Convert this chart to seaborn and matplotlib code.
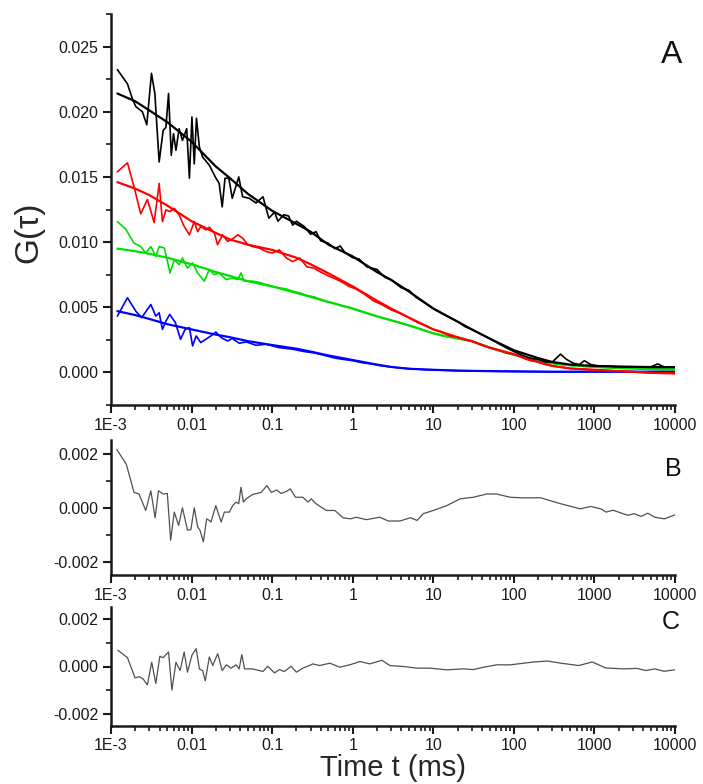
import numpy as np
import matplotlib
matplotlib.use("Agg")
import matplotlib.pyplot as plt
import seaborn as sns
from matplotlib.ticker import (FixedLocator, FixedFormatter, LogLocator,
                               NullFormatter, MultipleLocator, FuncFormatter)

# ---------------------------------------------------------------- data
# lag time (ms) and correlation amplitude of the measured curves
BLACK_T = [0.0012, 0.0016, 0.00184, 0.00203, 0.00245, 0.00278, 0.00318, 0.0035,
           0.00396, 0.00444, 0.0048, 0.00518, 0.0056, 0.00597, 0.0064, 0.007,
           0.0077, 0.0087, 0.0094, 0.0101, 0.0108, 0.0115, 0.0125, 0.0137,
           0.0166, 0.0197, 0.022, 0.024, 0.026, 0.029, 0.032, 0.0385, 0.043,
           0.052, 0.063, 0.077, 0.091, 0.107, 0.118, 0.14, 0.16, 0.18, 0.2,
           0.25, 0.3, 0.35, 0.4, 0.5, 0.6, 0.7, 0.8, 1.0, 1.2, 1.5, 2.0, 2.5,
           3.0, 4.0, 5.0, 6.0, 8.0, 10, 13, 16, 20, 25, 30, 40, 50, 65, 80, 100,
           130, 160, 200, 250, 300, 380, 450, 550, 650, 750, 900, 1100, 1400,
           1800, 2300, 3000, 4000, 5000, 6100, 7500, 10000]
BLACK_G = [0.02323, 0.02214, 0.0210, 0.0204, 0.0200, 0.0190, 0.02295, 0.0214,
           0.01615, 0.01857, 0.0188, 0.0214, 0.01666, 0.01832, 0.01705, 0.0187,
           0.0178, 0.0187, 0.0149, 0.0196, 0.0160, 0.0195, 0.0173, 0.01653,
           0.0159, 0.0150, 0.0145, 0.0127, 0.0149, 0.0149, 0.01336, 0.0150,
           0.01348, 0.01336, 0.0130, 0.01348, 0.01183, 0.0123, 0.0116, 0.0121,
           0.0120, 0.0113, 0.0116, 0.0112, 0.0106, 0.0108, 0.0101, 0.0099,
           0.0095, 0.0097, 0.0092, 0.0088, 0.0087, 0.0081, 0.0079, 0.0073,
           0.0071, 0.0065, 0.0063, 0.0058, 0.0053, 0.0049, 0.0045, 0.0042,
           0.0039, 0.0035, 0.0033, 0.0029, 0.0026, 0.0022, 0.0019, 0.0016,
           0.0013, 0.0011, 0.0010, 0.0008, 0.0008, 0.0014, 0.0010, 0.0007,
           0.0006, 0.0009, 0.0006, 0.0005, 0.0005, 0.00045, 0.0004, 0.00042,
           0.0004, 0.00042, 0.00065, 0.0004, 0.0004]

RED_T = [0.0012, 0.0016, 0.00193, 0.00234, 0.00283, 0.00343, 0.00396, 0.00435,
         0.0048, 0.0054, 0.0061, 0.007, 0.0081, 0.0094, 0.0108, 0.0119, 0.013,
         0.015, 0.0166, 0.0192, 0.021, 0.0243, 0.028, 0.032, 0.0375, 0.043,
         0.05, 0.057, 0.069, 0.084, 0.1, 0.123, 0.15, 0.18, 0.22, 0.27, 0.33,
         0.4, 0.5, 0.6, 0.75, 0.9, 1.1, 1.4, 1.8, 2.3, 3, 4, 5, 6.5, 8, 10, 13,
         16, 20, 25, 30, 40, 50, 65, 80, 100, 130, 160, 200, 250, 300, 400,
         500, 700, 1000, 1400, 2000, 3000, 4000, 5500, 7500, 10000]
RED_G = [0.01539, 0.01608, 0.01425, 0.01216, 0.01328, 0.0115, 0.0145, 0.01157,
         0.01247, 0.01234, 0.0126, 0.01208, 0.0112, 0.01056, 0.01157, 0.0108,
         0.0112, 0.01094, 0.01114, 0.01069, 0.0098, 0.01056, 0.01005, 0.01023,
         0.01056, 0.0103, 0.0098, 0.00966, 0.00954, 0.00928, 0.00916, 0.0094,
         0.00878, 0.0085, 0.00878, 0.0081, 0.0080, 0.0077, 0.0074, 0.0072,
         0.0069, 0.0066, 0.0064, 0.0060, 0.0055, 0.0052, 0.0048, 0.0045,
         0.0042, 0.0038, 0.0036, 0.0033, 0.0031, 0.0028, 0.0027, 0.0025,
         0.0024, 0.0021, 0.0019, 0.0017, 0.0015, 0.0014, 0.0011, 0.0009,
         0.0008, 0.0006, 0.0005, 0.0004, 0.0003, 0.00025, 0.0002, 0.00015,
         0.0001, 0.00005, 0.0, -0.00005, -0.00003, -0.00008]

GREEN_T = [0.0012, 0.00152, 0.00193, 0.00234, 0.0027, 0.00312, 0.0036, 0.00396,
           0.0046, 0.0054, 0.0061, 0.007, 0.0077, 0.0089, 0.0103, 0.0119,
           0.0144, 0.0166, 0.0192, 0.022, 0.027, 0.032, 0.0375, 0.041, 0.045,
           0.057, 0.07, 0.084, 0.1, 0.123, 0.15, 0.18, 0.22, 0.27, 0.33, 0.4,
           0.5, 0.6, 0.75, 0.9, 1.1, 1.4, 1.8, 2.3, 3, 4, 5, 6.5, 8, 10, 13, 16,
           20, 25, 30, 40, 50, 65, 80, 100, 130, 160, 200, 250, 300, 400, 500,
           700, 1000, 1400, 2000, 3000, 4000, 5500, 7500, 10000]
GREEN_G = [0.01157, 0.0110, 0.00992, 0.00966, 0.00916, 0.00966, 0.0089,
           0.00966, 0.00954, 0.00763, 0.00865, 0.00827, 0.00878, 0.0080,
           0.0084, 0.00763, 0.0070, 0.00789, 0.0075, 0.00763, 0.00712, 0.00725,
           0.00712, 0.00763, 0.0070, 0.0070, 0.0069, 0.00674, 0.0066, 0.00649,
           0.0064, 0.00623, 0.0061, 0.0059, 0.0058, 0.0056, 0.0054, 0.0053,
           0.0051, 0.0050, 0.0048, 0.0046, 0.0044, 0.0042, 0.0040, 0.0038,
           0.0036, 0.0034, 0.0032, 0.0030, 0.0028, 0.0027, 0.0026, 0.0025,
           0.0024, 0.0021, 0.0019, 0.0017, 0.0015, 0.00135, 0.0012, 0.0010,
           0.0009, 0.0008, 0.0007, 0.0006, 0.00055, 0.00048, 0.00042, 0.00038,
           0.00033, 0.0003, 0.00027, 0.00025, 0.00024, 0.00023]

BLUE_T = [0.0012, 0.0016, 0.00203, 0.0024, 0.00312, 0.0036, 0.00396, 0.00435,
          0.0048, 0.00536, 0.0063, 0.0073, 0.0083, 0.0094, 0.0103, 0.0114,
          0.013, 0.015, 0.0174, 0.02, 0.0233, 0.028, 0.032, 0.039, 0.048, 0.063,
          0.084, 0.123, 0.18, 0.25, 0.33, 0.45, 0.6, 0.8, 1.0, 1.3, 1.7, 2.2, 3,
          4, 5.5, 7.5, 10, 14, 20, 30, 45, 70, 100, 200, 400, 700, 1000, 2000,
          4000, 7000, 10000]
BLUE_G = [0.00432, 0.00573, 0.0047, 0.0042, 0.00521, 0.00432, 0.00458, 0.0033,
          0.00394, 0.00445, 0.00382, 0.00254, 0.0033, 0.00344, 0.00203, 0.0028,
          0.00229, 0.00254, 0.0028, 0.0031, 0.00267, 0.00241, 0.0026, 0.00224,
          0.00234, 0.00208, 0.00216, 0.0019, 0.00178, 0.0016, 0.0015, 0.0013,
          0.0011, 0.00098, 0.0009, 0.00075, 0.00065, 0.00052, 0.00042, 0.00033,
          0.00027, 0.00022, 0.0002, 0.00016, 0.00013, 0.00011, 0.0001, 0.00008,
          0.00007, 0.00006, 0.00005, 0.00006, 0.00005, 0.00006, 0.00005,
          0.00007, 0.00006]

# fitted model curves
FIT_T = [0.0012, 0.002, 0.003, 0.005, 0.01, 0.02, 0.03, 0.05, 0.1, 0.2, 0.3,
         0.5, 1, 2, 3, 5, 10, 20, 30, 50, 100, 200, 300, 500, 1000, 2000, 5000,
         10000]
FIT_BLACK = [0.0214, 0.0208, 0.0201, 0.0192, 0.0177, 0.0158, 0.0149, 0.0137,
             0.0124, 0.0114, 0.0108, 0.0098, 0.0089, 0.0077, 0.0071, 0.0062,
             0.0049, 0.0039, 0.0033, 0.0026, 0.0017, 0.0011, 0.0008, 0.0006,
             0.0005, 0.00045, 0.00041, 0.0004]
FIT_RED = [0.0146, 0.0141, 0.0136, 0.0128, 0.0116, 0.0107, 0.0102, 0.0098,
           0.0094, 0.0088, 0.0083, 0.0076, 0.0066, 0.0055, 0.0049, 0.0042,
           0.0033, 0.0027, 0.0024, 0.0019, 0.0014, 0.0008, 0.0005, 0.0003,
           0.0002, 0.0001, -0.00003, -0.00008]
FIT_GREEN = [0.0095, 0.0093, 0.0091, 0.0088, 0.0083, 0.0077, 0.0074, 0.0070,
             0.0066, 0.0061, 0.0058, 0.0054, 0.0049, 0.0043, 0.0040, 0.0036,
             0.0030, 0.0026, 0.0024, 0.0019, 0.00135, 0.0009, 0.0007, 0.00055,
             0.00042, 0.00033, 0.00026, 0.00023]
FIT_BLUE = [0.0047, 0.0044, 0.0041, 0.0037, 0.0033, 0.0029, 0.0027, 0.0024,
            0.0021, 0.00182, 0.0016, 0.0013, 0.00095, 0.0006, 0.00042, 0.00028,
            0.0002, 0.00014, 0.00012, 0.0001, 0.00008, 0.00006, 0.00005,
            0.00005, 0.00005, 0.00005, 0.00005, 0.00005]

# residuals of the one-component (B) and two-component (C) fits
RES_B_T = [0.00118, 0.00155, 0.00193, 0.00223, 0.0027, 0.00312, 0.00353,
           0.00388, 0.00444, 0.005, 0.0055, 0.0061, 0.0069, 0.0077, 0.0089,
           0.0098, 0.0108, 0.0119, 0.0127, 0.014, 0.0154, 0.0166, 0.0174, 0.020,
           0.0233, 0.0255, 0.0295, 0.0324, 0.0357, 0.0385, 0.041, 0.044, 0.0475,
           0.057, 0.073, 0.086, 0.098, 0.114, 0.129, 0.149, 0.168, 0.195, 0.24,
           0.279, 0.306, 0.35, 0.47, 0.6, 0.76, 0.94, 1.1, 1.48, 2.17, 2.76,
           3.86, 5.2, 6.3, 7.5, 10, 14.7, 21.5, 31.5, 46, 61, 90, 120, 215, 380,
           670, 900, 1200, 1400, 1700, 2600, 3100, 3800, 4600, 5600, 7400, 10000]
RES_B = [0.00215, 0.0016, 0.00056, 0.0005, -0.00011, 0.00062, -0.00038,
         0.00062, 0.0005, 0.00052, -0.00121, -0.00017, -0.00066, -0.00001,
         -0.00084, -0.00082, -0.00001, -0.00072, -0.00084, -0.00127, -0.00042,
         -0.00048, -0.00054, 0.00007, -0.00054, -0.00017, -0.00017, 0.00007,
         0.0002, 0.00014, 0.00075, 0.0002, 0.00032, 0.00048, 0.00056, 0.00081,
         0.00056, 0.00065, 0.00052, 0.00059, 0.00069, 0.00038, 0.00038, 0.0002,
         0.00032, 0.00014, -0.00011, -0.00011, -0.00038, -0.00042, -0.00036,
         -0.00045, -0.00036, -0.0005, -0.0005, -0.00038, -0.00048, -0.00023,
         -0.00011, 0.00007, 0.00032, 0.00038, 0.0005, 0.0005, 0.00038, 0.00036,
         0.00036, 0.00014, -0.00005, 0.00004, -0.00005, -0.00017, -0.0001,
         -0.00029, -0.00023, -0.00033, -0.00021, -0.00036, -0.00042, -0.00027]

RES_C_T = [0.00122, 0.0016, 0.00199, 0.00223, 0.0025, 0.00283, 0.0032, 0.0036,
           0.00404, 0.00444, 0.00518, 0.0057, 0.0064, 0.0072, 0.0081, 0.0089,
           0.0101, 0.0114, 0.0125, 0.0137, 0.0148, 0.0166, 0.0183, 0.0211,
           0.024, 0.027, 0.031, 0.0357, 0.039, 0.042, 0.0455, 0.057, 0.077,
           0.088, 0.107, 0.123, 0.142, 0.172, 0.2, 0.24, 0.29, 0.32, 0.39, 0.52,
           0.69, 0.92, 1.23, 1.63, 2.3, 2.9, 4.25, 6.25, 9.1, 14.7, 23.5, 31.5,
           42, 61, 90, 178, 261, 383, 639, 938, 1376, 2300, 3370, 4350, 5620,
           7300, 10000]
RES_C = [0.00068, 0.00037, -0.00048, -0.00043, -0.00052, -0.00077, 0.00018,
         -0.00071, 0.00043, 0.00037, 0.00061, -0.00099, 0.00018, -0.00017,
         0.00061, -0.00024, 0.00047, 0.00075, -0.0001, -0.00017, -0.0006,
         0.0004, 0.00004, 0.00054, -0.00017, 0.00007, -0.00007, 0.00007,
         -0.0001, 0.0005, -0.0001, -0.0001, -0.00021, 0.00001, -0.00027,
         -0.00013, -0.00021, 0.00001, -0.00024, -0.00007, 0.00004, 0.00011,
         0.00004, 0.00014, -0.00003, 0.00007, 0.00021, 0.00011, 0.00026,
         0.00004, 0.0, -0.00007, -0.00007, -0.00014, -0.0001, -0.00013,
         -0.00003, 0.00007, 0.00007, 0.00019, 0.00023, 0.00014, 0.00004,
         0.00019, -0.00006, -0.0001, -0.00008, -0.00017, -0.0001, -0.0002,
         -0.00014]

TICK_POS = [1e-3, 1e-2, 1e-1, 1, 10, 100, 1000, 10000]
TICK_LABELS = ["1E-3", "0.01", "0.1", "1", "10", "100", "1000", "10000"]

# ---------------------------------------------------------------- figure
sns.set_style("ticks")
plt.rcParams['font.family'] = ['Liberation Sans', 'DejaVu Sans']
plt.rcParams['axes.unicode_minus'] = False

W, H = 703, 784
fig = plt.figure(figsize=(W / 100, H / 100), dpi=100)


def box(left, top, right, bottom):
    return [left / W, 1 - bottom / H, (right - left) / W, (bottom - top) / H]


axA = fig.add_axes(box(111, 14, 675, 405))
axB = fig.add_axes(box(111, 440, 675, 575))
axC = fig.add_axes(box(111, 607, 675, 726))


def style(ax, ylim, major, minor, fmt):
    ax.set_xscale('log')
    ax.set_xlim(1e-3, 1e4)
    ax.set_ylim(*ylim)
    ax.xaxis.set_major_locator(FixedLocator(TICK_POS))
    ax.xaxis.set_major_formatter(FixedFormatter(TICK_LABELS))
    ax.xaxis.set_minor_locator(LogLocator(base=10, subs=np.arange(2, 10), numticks=20))
    ax.xaxis.set_minor_formatter(NullFormatter())
    ax.yaxis.set_major_locator(MultipleLocator(major))
    ax.yaxis.set_minor_locator(MultipleLocator(minor))
    ax.yaxis.set_major_formatter(FuncFormatter(lambda v, p: fmt % (round(v, 6) + 0.0)))
    for s in ['top', 'right']:
        ax.spines[s].set_visible(False)
    for s in ['left', 'bottom']:
        ax.spines[s].set_linewidth(1.8)
        ax.spines[s].set_color('#1a1a1a')
    ax.tick_params(which='major', direction='out', length=6, width=1.5,
                   labelsize=11.5, pad=3, color='#1a1a1a', labelcolor='#1a1a1a')
    ax.tick_params(which='minor', direction='out', length=3.5, width=1.2,
                   color='#1a1a1a')
    ax.set_xlabel('')
    ax.set_ylabel('')


# panel A: measured curves with their fits
series = [
    (BLUE_T, BLUE_G, FIT_BLUE, '#0000ff'),
    (GREEN_T, GREEN_G, FIT_GREEN, '#00dd00'),
    (RED_T, RED_G, FIT_RED, '#ff0000'),
    (BLACK_T, BLACK_G, FIT_BLACK, '#000000'),
]
for t, g, fit, col in series:
    sns.lineplot(x=t, y=g, ax=axA, color=col, lw=1.2, estimator=None)
    sns.lineplot(x=FIT_T, y=fit, ax=axA, color=col, lw=1.6, estimator=None)

style(axA, (-0.0025, 0.0275), 0.005, 0.0025, '%.3f')

# panels B and C: residuals
sns.lineplot(x=RES_B_T, y=RES_B, ax=axB, color='#505050', lw=0.9, estimator=None)
style(axB, (-0.0025, 0.0025), 0.002, 0.001, '%.3f')

sns.lineplot(x=RES_C_T, y=RES_C, ax=axC, color='#505050', lw=0.9, estimator=None)
style(axC, (-0.0025, 0.0025), 0.002, 0.001, '%.3f')

# panel letters and axis titles
fig.text(672 / W, 1 - 55 / H, 'A', fontsize=23, ha='center', va='center', color='#111111')
fig.text(673 / W, 1 - 469 / H, 'B', fontsize=18, ha='center', va='center', color='#111111')
fig.text(671 / W, 1 - 622 / H, 'C', fontsize=18, ha='center', va='center', color='#111111')
fig.text(29 / W, 1 - 232 / H, 'G(τ)', fontsize=24, rotation=90, ha='center', va='center')
fig.text(393 / W, 1 - 768 / H, 'Time t (ms)', fontsize=21, ha='center', va='center')

fig.savefig('out.png', dpi=100)
